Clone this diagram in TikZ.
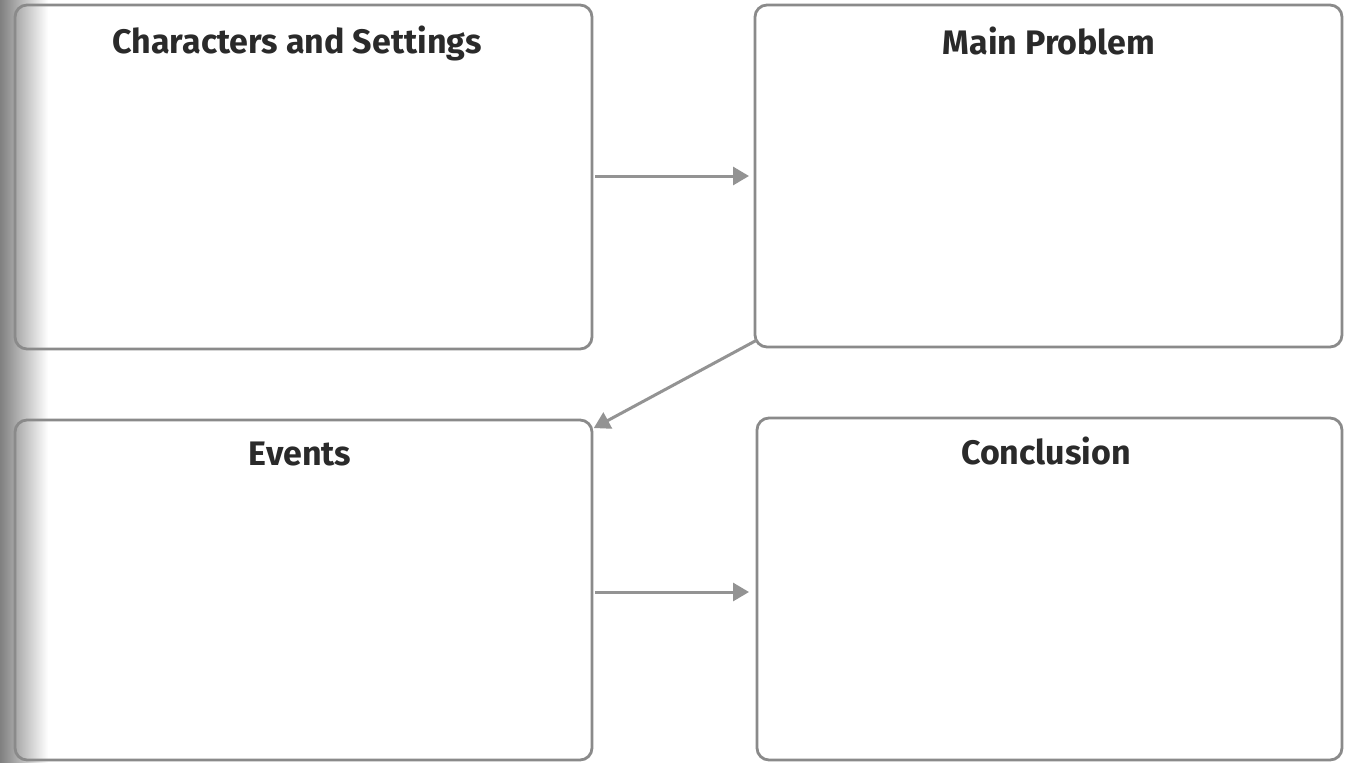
\documentclass[tikz,border=0pt]{standalone}
\usepackage{fontspec}
\setmainfont{Fira Sans}
\usetikzlibrary{arrows.meta,calc}
\definecolor{boxgray}{HTML}{8A8A8A}
\definecolor{arrgray}{HTML}{939393}
\definecolor{titlecol}{HTML}{2A2A2A}
\tikzset{
  panel/.style={draw=boxgray, line width=2.8pt, rounded corners=12pt},
  paneltitle/.style={font=\fontsize{34}{40}\selectfont\bfseries, text=titlecol, inner sep=0pt},
  flow/.style={draw=arrgray, line width=3pt, -{Triangle[length=16pt,width=18pt]}}
}
\begin{document}
\begin{tikzpicture}[x=1pt,y=-1pt]
\useasboundingbox (0,0) rectangle (1352,763);
\fill[white] (0,0) rectangle (1352,763);
\shade[left color=black!50, right color=white] (0,0) rectangle (48,763);
\draw[panel] (15,5) rectangle (592,349);
\draw[panel] (755,5) rectangle (1342,347);
\draw[panel] (15,420) rectangle (592,760);
\draw[panel] (757,418) rectangle (1342,760);
\coordinate (b1e) at (592,176);
\coordinate (b2w) at (755,176);
\coordinate (b2sw) at (757,340);
\coordinate (b3e) at (592,592);
\coordinate (b3ne) at (592,429);
\coordinate (b4w) at (757,592);
\node[paneltitle] (t1) at (297,43) {Characters and Settings};
\node[paneltitle] (t2) at (1049,41) {Main Problem};
\node[paneltitle] (t3) at (300,454) {Events};
\node[paneltitle] (t4) at (1046,451) {Conclusion};
\draw[flow, shorten <=3pt, shorten >=6pt] (b1e) -- (b2w);
\draw[flow, shorten >=2pt] (b2sw) -- (b3ne);
\draw[flow, shorten <=3pt, shorten >=8pt] (b3e) -- (b4w);
\end{tikzpicture}
\end{document}
